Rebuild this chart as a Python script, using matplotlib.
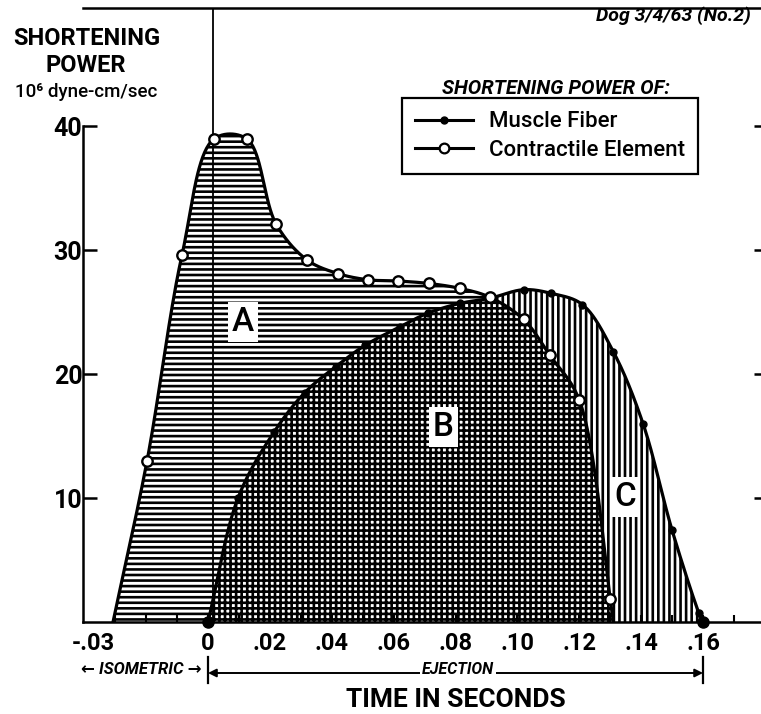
import numpy as np
import matplotlib
matplotlib.use("Agg")
import matplotlib.pyplot as plt
import matplotlib.transforms as mtransforms
from matplotlib.lines import Line2D

# ---------------- data ----------------
ce_t = [-0.0307, -0.0197, -0.0084, 0.0019, 0.0126, 0.0220, 0.0320, 0.0420, 0.0517,
        0.0614, 0.0714, 0.0815, 0.0910, 0.1020, 0.1105, 0.1200, 0.1300, 0.1310]
ce_p = [0.0, 13.0, 29.6, 38.95, 38.95, 32.1, 29.2, 28.1, 27.6,
        27.5, 27.3, 26.9, 26.2, 24.4, 21.5, 17.9, 1.85, 0.0]

mf_t = [0.0, 0.0097, 0.0213, 0.0313, 0.0413, 0.0507, 0.0620, 0.0710, 0.0815,
        0.0910, 0.1020, 0.1110, 0.1210, 0.1310, 0.1406, 0.1500, 0.1587, 0.1600]
mf_p = [0.0, 10.0, 15.3, 18.5, 20.6, 22.3, 23.8, 24.9, 25.7,
        26.1, 26.8, 26.5, 25.6, 21.8, 16.0, 7.4, 0.7, 0.0]

xtick_vals = [-0.03, 0.0, 0.02, 0.04, 0.06, 0.08, 0.10, 0.12, 0.14, 0.16]
xtick_labels = ["-.03", "0", ".02", ".04", ".06", ".08", ".10", ".12", ".14", ".16"]
xminor_vals = [-0.03, -0.02, -0.01, 0.0, 0.01, 0.02, 0.03, 0.04, 0.05, 0.06, 0.07,
               0.08, 0.09, 0.10, 0.11, 0.12, 0.13, 0.14, 0.15, 0.16, 0.17]
ytick_vals = [10, 20, 30, 40]
ytick_labels = ["10", "20", "30", "40"]

legend_labels = ["Muscle Fiber", "Contractile Element"]
region_labels = ["A", "B", "C"]
region_pos_t = [0.0113, 0.0760, 0.1348]
region_pos_p = [24.2, 15.7, 10.1]

# ---------------- style ----------------
plt.rcParams["font.family"] = ["Roboto", "DejaVu Sans"]
plt.rcParams["hatch.linewidth"] = 1.9
plt.rcParams["hatch.color"] = "black"

W, H = 761, 714
fig = plt.figure(figsize=(W / 100, H / 100), dpi=100)
fig.patch.set_facecolor("white")

left_px, right_px, top_px, bot_px = 83, 761, 8, 622
ax = fig.add_axes([left_px / W, 1 - bot_px / H, (right_px - left_px) / W, (bot_px - top_px) / H])

SX = 3094.0   # px per second
SY = 12.4     # px per unit power
x0_px = 208
ax.set_xlim((left_px - x0_px) / SX, (right_px - x0_px) / SX)
ax.set_ylim(0, (bot_px - top_px) / SY)


def catmull_rom(xs, ys, n=40, alpha=0.5):
    P = np.column_stack([np.asarray(xs) * SX, np.asarray(ys) * SY])
    P = np.vstack([2 * P[0] - P[1], P, 2 * P[-1] - P[-2]])
    out = []
    for i in range(1, len(P) - 2):
        p0, p1, p2, p3 = P[i - 1], P[i], P[i + 1], P[i + 2]
        t0 = 0.0
        t1 = t0 + np.linalg.norm(p1 - p0) ** alpha
        t2 = t1 + np.linalg.norm(p2 - p1) ** alpha
        t3 = t2 + np.linalg.norm(p3 - p2) ** alpha
        t = np.linspace(t1, t2, n)[:, None]
        A1 = (t1 - t) / (t1 - t0) * p0 + (t - t0) / (t1 - t0) * p1
        A2 = (t2 - t) / (t2 - t1) * p1 + (t - t1) / (t2 - t1) * p2
        A3 = (t3 - t) / (t3 - t2) * p2 + (t - t2) / (t3 - t2) * p3
        B1 = (t2 - t) / (t2 - t0) * A1 + (t - t0) / (t2 - t0) * A2
        B2 = (t3 - t) / (t3 - t1) * A2 + (t - t1) / (t3 - t1) * A3
        C = (t2 - t) / (t2 - t1) * B1 + (t - t1) / (t2 - t1) * B2
        out.append(C if i == 1 else C[1:])
    arr = np.vstack(out)
    return arr[:, 0] / SX, np.clip(arr[:, 1] / SY, 0, None)


ce_x, ce_y = catmull_rom(ce_t, ce_p)
mf_x, mf_y = catmull_rom(mf_t, mf_p)

# common grid for the shaded regions
tg = np.linspace(min(ce_t), max(mf_t), 3000)
ce_g = np.interp(tg, np.maximum.accumulate(ce_x), ce_y, left=0, right=0)
mf_g = np.interp(tg, np.maximum.accumulate(mf_x), mf_y, left=0, right=0)

common = dict(facecolor="white", edgecolor="black", linewidth=0, interpolate=True)
ax.fill_between(tg, mf_g, ce_g, where=ce_g >= mf_g, hatch="---", zorder=1, **common)
ax.fill_between(tg, 0, np.minimum(ce_g, mf_g), hatch="+++", zorder=1, **common)
ax.fill_between(tg, ce_g, mf_g, where=mf_g > ce_g, hatch="|||", zorder=1, **common)

# vertical reference line near t = 0
ax.axvline(0.0017, color="black", lw=1.3, zorder=2)

# curves
ax.plot(ce_x, ce_y, color="black", lw=2.3, zorder=4, solid_capstyle="round")
ax.plot(mf_x, mf_y, color="black", lw=2.3, zorder=4, solid_capstyle="round")
ax.plot(mf_t[1:-1], mf_p[1:-1], "o", color="black", ms=5, zorder=5)
ax.plot([mf_t[0], mf_t[-1]], [mf_p[0], mf_p[-1]], "o", color="black", ms=8, zorder=5, clip_on=False)
ax.plot(ce_t[1:-1], ce_p[1:-1], "o", mfc="white", mec="black", ms=7.5, mew=1.7, zorder=6)

# region labels
for lab, tx, py in zip(region_labels, region_pos_t, region_pos_p):
    ax.text(tx, py, lab, ha="center", va="center", fontsize=24, fontweight="medium", zorder=7,
            bbox=dict(boxstyle="square,pad=0.12", fc="white", ec="none"))

# spines & ticks
ax.spines["right"].set_visible(False)
for s in ["left", "bottom", "top"]:
    ax.spines[s].set_linewidth(1.8)
ax.spines["left"].set_bounds(0, 40)

ax.set_xticks(xtick_vals)
ax.set_xticklabels(xtick_labels)
ax.set_xticks(xminor_vals, minor=True)
ax.set_yticks(ytick_vals)
ax.set_yticklabels(ytick_labels)
ax.tick_params(axis="x", which="both", direction="in", length=5, width=1.5, pad=7,
               labelsize=17, top=False)
ax.tick_params(axis="y", which="major", direction="in", length=10, width=1.8, pad=0.5,
               labelsize=18, right=True)
for lbl in ax.get_xticklabels() + ax.get_yticklabels():
    lbl.set_fontweight("bold")
ax.get_xticklabels()[0].set_horizontalalignment("right")
for tick in ax.yaxis.get_major_ticks():
    tick.tick2line.set_markersize(5)

# y-axis title block
fig.text(87 / W, 1 - 45 / H, "SHORTENING", ha="center", va="baseline", fontsize=17, fontweight="bold")
fig.text(86 / W, 1 - 72 / H, "POWER", ha="center", va="baseline", fontsize=17, fontweight="bold")
fig.text(86 / W, 1 - 97 / H, "10⁶ dyne-cm/sec", ha="center", va="baseline", fontsize=13.5,
         fontweight="medium")

# x-axis title
fig.text(456 / W, 1 - 707 / H, "TIME IN SECONDS", ha="center", va="baseline", fontsize=19,
         fontweight="bold")

# upper right notes
fig.text(673 / W, 1 - 16 / H, "Dog 3/4/63 (No.2)", ha="center", va="center", fontsize=14,
         fontweight="bold", fontstyle="italic")
fig.text(556 / W, 1 - 88 / H, "SHORTENING POWER OF:", ha="center", va="center", fontsize=14.5,
         fontweight="bold", fontstyle="italic")

# legend
handles = [
    Line2D([], [], color="black", lw=2.2, marker="o", ms=5, mfc="black", mec="black"),
    Line2D([], [], color="black", lw=2.2, marker="o", ms=7, mfc="white", mec="black", mew=1.6),
]
leg = ax.legend(handles, legend_labels, loc="upper left",
                bbox_to_anchor=(402 / W, 1 - 98 / H), bbox_transform=fig.transFigure,
                borderaxespad=0, frameon=True, fancybox=False, framealpha=1,
                edgecolor="black", handlelength=2.6, handletextpad=0.7,
                borderpad=0.6, labelspacing=0.35, prop=dict(size=16, weight="medium"))
leg.get_frame().set_linewidth(1.6)
leg.set_zorder(10)

# bottom annotations (ISOMETRIC / EJECTION)
blend = mtransforms.blended_transform_factory(ax.transData, fig.transFigure)
y_arrow = 1 - 673 / H
y_bar0, y_bar1 = 1 - 657 / H, 1 - 683 / H
for xb in [0.0, 0.16]:
    ax.plot([xb, xb], [y_bar0, y_bar1], color="black", lw=1.6, transform=blend, clip_on=False)
ax.annotate("", xy=(0.0, y_arrow), xytext=(0.16, y_arrow), xycoords=blend, textcoords=blend,
            arrowprops=dict(arrowstyle="<|-|>", color="black", lw=1.4, mutation_scale=12,
                            shrinkA=0, shrinkB=0), annotation_clip=False)
ax.text(0.0808, 1 - 670 / H, "EJECTION", transform=blend, ha="center", va="center",
        fontsize=11.5, fontweight="bold", fontstyle="italic",
        bbox=dict(boxstyle="square,pad=0.15", fc="white", ec="none"))
ax.text(-0.0215, 1 - 670 / H, "← ISOMETRIC →", transform=blend, ha="center", va="center",
        fontsize=12, fontweight="bold", fontstyle="italic")

fig.savefig("out.png", dpi=100)
